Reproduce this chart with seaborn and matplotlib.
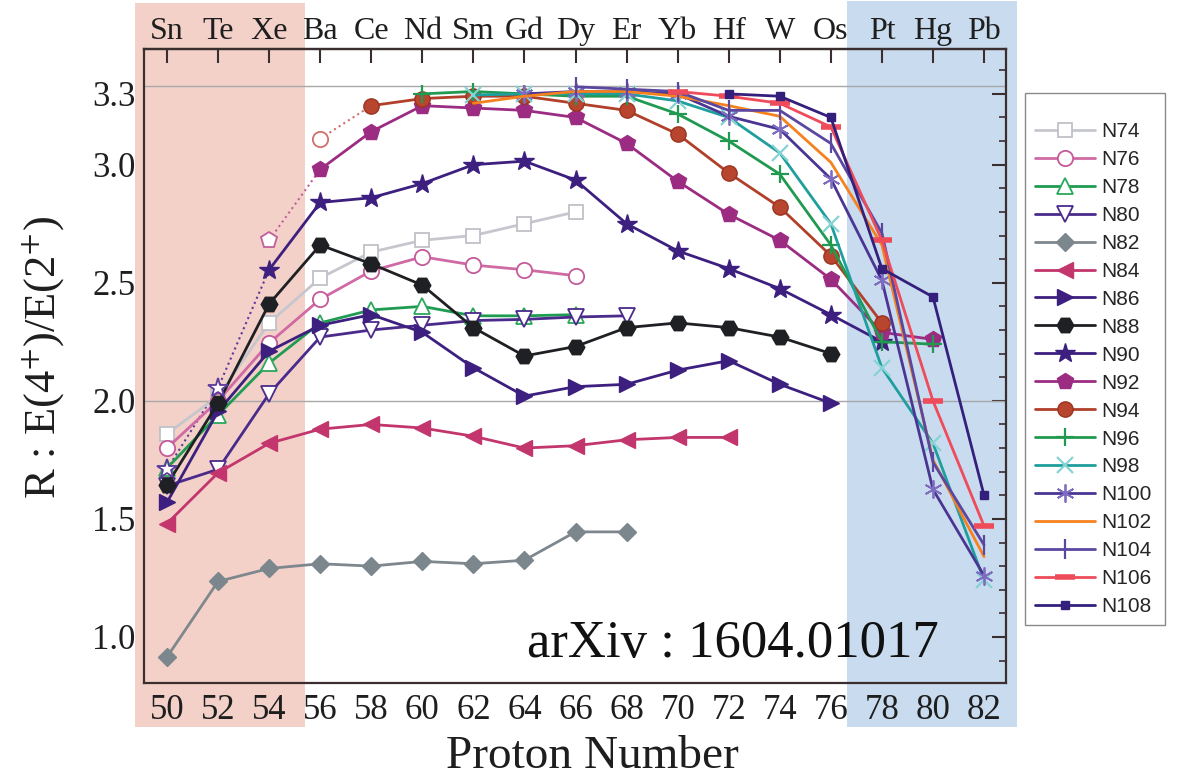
import numpy as np
import pandas as pd
import matplotlib
matplotlib.use("Agg")
import matplotlib.pyplot as plt
import seaborn as sns
from matplotlib.patches import Rectangle
from matplotlib.ticker import MultipleLocator
from matplotlib.font_manager import FontProperties

# ---------------- data ----------------
z_ticks = list(range(50, 84, 2))
elements = ["Sn", "Te", "Xe", "Ba", "Ce", "Nd", "Sm", "Gd", "Dy", "Er",
            "Yb", "Hf", "W", "Os", "Pt", "Hg", "Pb"]
y_ticks = [1.0, 1.5, 2.0, 2.5, 3.0, 3.3]
y_ticklabels = ["1.0", "1.5", "2.0", "2.5", "3.0", "3.3"]

N74_Z = [50, 52, 54, 56, 58, 60, 62, 64, 66]
N74_R = [1.86, 2.02, 2.33, 2.52, 2.63, 2.68, 2.70, 2.75, 2.80]
N76_Z = [50, 52, 54, 56, 58, 60, 62, 64, 66]
N76_R = [1.80, 2.00, 2.245, 2.43, 2.55, 2.61, 2.575, 2.555, 2.53]
N78_Z = [50, 52, 54, 56, 58, 60, 62, 64, 66]
N78_R = [1.715, 1.94, 2.16, 2.33, 2.385, 2.40, 2.36, 2.36, 2.365]
N80_Z = [50, 52, 54, 56, 58, 60, 62, 64, 66, 68]
N80_R = [1.64, 1.71, 2.03, 2.27, 2.30, 2.32, 2.34, 2.345, 2.355, 2.36]
N82_Z = [50, 52, 54, 56, 58, 60, 62, 64, 66, 68]
N82_R = [0.915, 1.235, 1.29, 1.31, 1.30, 1.32, 1.31, 1.325, 1.445, 1.445]
N84_Z = [50, 52, 54, 56, 58, 60, 62, 64, 66, 68, 70, 72]
N84_R = [1.48, 1.695, 1.82, 1.88, 1.90, 1.885, 1.85, 1.80, 1.81, 1.835, 1.845, 1.845]
N86_Z = [50, 52, 54, 56, 58, 60, 62, 64, 66, 68, 70, 72, 74, 76]
N86_R = [1.57, 1.955, 2.21, 2.32, 2.365, 2.29, 2.14, 2.02, 2.06, 2.07, 2.13, 2.17, 2.07, 1.99]
N88_Z = [50, 52, 54, 56, 58, 60, 62, 64, 66, 68, 70, 72, 74, 76]
N88_R = [1.645, 1.99, 2.41, 2.66, 2.58, 2.49, 2.31, 2.19, 2.23, 2.31, 2.33, 2.31, 2.27, 2.20]
N90_Z = [54, 56, 58, 60, 62, 64, 66, 68, 70, 72, 74, 76, 78]
N90_R = [2.555, 2.84, 2.86, 2.92, 3.00, 3.015, 2.935, 2.75, 2.635, 2.56, 2.475, 2.365, 2.25]
N92_Z = [56, 58, 60, 62, 64, 66, 68, 70, 72, 74, 76, 78, 80]
N92_R = [2.98, 3.14, 3.25, 3.24, 3.23, 3.20, 3.09, 2.93, 2.79, 2.68, 2.515, 2.29, 2.26]
N94_Z = [58, 60, 62, 64, 66, 68, 70, 72, 74, 76, 78]
N94_R = [3.25, 3.28, 3.29, 3.29, 3.26, 3.23, 3.13, 2.965, 2.82, 2.615, 2.33]
N96_Z = [60, 62, 64, 66, 68, 70, 72, 74, 76, 78, 80]
N96_R = [3.30, 3.31, 3.30, 3.29, 3.29, 3.215, 3.10, 2.96, 2.66, 2.25, 2.24]
N98_Z = [62, 64, 66, 68, 70, 72, 74, 76, 78, 80, 82]
N98_R = [3.295, 3.30, 3.30, 3.30, 3.27, 3.20, 3.05, 2.75, 2.14, 1.82, 1.24]
N100_Z = [64, 66, 68, 70, 72, 74, 76, 78, 80, 82]
N100_R = [3.30, 3.31, 3.31, 3.30, 3.205, 3.15, 2.94, 2.51, 1.625, 1.26]
N102_Z = [62, 64, 66, 68, 70, 72, 74, 76, 78, 80, 82]
N102_R = [3.26, 3.29, 3.31, 3.31, 3.29, 3.25, 3.205, 3.01, 2.66, 1.75, 1.34]
N104_Z = [66, 68, 70, 72, 74, 76, 78, 80, 82]
N104_R = [3.33, 3.32, 3.31, 3.23, 3.23, 3.09, 2.71, 1.74, 1.39]
N106_Z = [70, 72, 74, 76, 78, 80, 82]
N106_R = [3.31, 3.29, 3.26, 3.16, 2.68, 2.00, 1.47]
N108_Z = [72, 74, 76, 78, 80, 82]
N108_R = [3.30, 3.29, 3.20, 2.56, 2.44, 1.60]

# estimated (dotted) values
N90e_Z = [50, 52, 54]
N90e_R = [1.71, 2.055, 2.555]
N92e_Z = [54, 56]
N92e_R = [2.68, 2.98]
N94e_Z = [56, 58]
N94e_R = [3.11, 3.25]

# ---------------- style ----------------
sns.set_theme(style="white")
plt.rcParams["font.family"] = ["Liberation Serif", "DejaVu Serif"]
plt.rcParams["mathtext.fontset"] = "stix"

W, H = 1179, 782
fig = plt.figure(figsize=(W / 100, H / 100), dpi=100)
fig.patch.set_facecolor("white")

# shaded regions (figure coordinates)
fig.add_artist(Rectangle((135 / W, 1 - 727 / H), 170 / W, 724 / H,
                         transform=fig.transFigure, facecolor="#f3d1c9",
                         edgecolor="none", zorder=0))
fig.add_artist(Rectangle((847 / W, 1 - 727 / H), 170 / W, 726 / H,
                         transform=fig.transFigure, facecolor="#c9dcef",
                         edgecolor="none", zorder=0))
# legend frame
fig.add_artist(Rectangle((1025 / W, 1 - 625 / H), 140 / W, 532 / H,
                         transform=fig.transFigure, facecolor="white",
                         edgecolor="#8a8a8a", linewidth=1.0, zorder=0.5))

ax = fig.add_axes([144 / W, 1 - 683 / H, 862 / W, 634 / H])
ax.set_zorder(1)
ax.patch.set_alpha(0)

ax.axhline(10 / 3, color="#a8a8a8", lw=1.0, zorder=1)
ax.axhline(2.0, color="#a8a8a8", lw=1.0, zorder=1)

series = [
    ("N74", N74_Z, N74_R, "#c6c6ce", "s", 10, "white", "#c0c0c8", 1.3),
    ("N76", N76_Z, N76_R, "#cf6aa4", "o", 11, "white", "#c55a9a", 1.3),
    ("N78", N78_Z, N78_R, "#1f9c52", "^", 11, "white", "#2aa85c", 1.3),
    ("N80", N80_Z, N80_R, "#4a2a8a", "v", 11, "white", "#4a2a8a", 1.3),
    ("N82", N82_Z, N82_R, "#7e878e", "D", 9, "#7b868d", "#7b868d", 1.0),
    ("N84", N84_Z, N84_R, "#c3366d", "<", 12, "#c3366d", "#c3366d", 1.0),
    ("N86", N86_Z, N86_R, "#3c1f7e", ">", 12, "#3c1f7e", "#3c1f7e", 1.0),
    ("N88", N88_Z, N88_R, "#1f2023", "H", 12, "#1f2023", "#1f2023", 1.0),
    ("N90", N90_Z, N90_R, "#3c1f7e", "*", 15, "#3c1f7e", "#3c1f7e", 1.0),
    ("N92", N92_Z, N92_R, "#9c2c82", "p", 12, "#9c2c82", "#9c2c82", 1.0),
    ("N94", N94_Z, N94_R, "#b0402a", "o", 11, "#b8452e", "#9a3420", 1.0),
    ("N96", N96_Z, N96_R, "#209a50", "+", 13, "#209a50", "#209a50", 1.6),
    ("N98", N98_Z, N98_R, "#1f9e9e", "x", 11, "#86d3d3", "#86d3d3", 1.6),
    ("N100", N100_Z, N100_R, "#4b3592", (6, 2, 0), 13, "#7e6cc0", "#7e6cc0", 1.3),
    ("N102", N102_Z, N102_R, "#f5821f", "None", 1, "#f5821f", "#f5821f", 1.0),
    ("N104", N104_Z, N104_R, "#5b46a0", "|", 14, "#5b46a0", "#5b46a0", 1.6),
    ("N106", N106_Z, N106_R, "#ee4c5a", "_", 14, "#ee4c5a", "#ee4c5a", 4.0),
    ("N108", N108_Z, N108_R, "#34207c", "s", 6, "#34207c", "#34207c", 1.0),
]

for i, (name, zz, rr, col, mk, ms, mfc, mec, mew) in enumerate(series):
    df = pd.DataFrame({"Z": zz, "R": rr})
    sns.lineplot(data=df, x="Z", y="R", ax=ax, color=col, marker=mk,
                 markersize=ms, markerfacecolor=mfc, markeredgecolor=mec,
                 markeredgewidth=mew, linewidth=2.0, label=name,
                 zorder=3 + i * 0.1)

# estimated points, dotted
est = [
    (N90e_Z, N90e_R, "#5a3a9a", "*", 15, 2),
    (N92e_Z, N92e_R, "#c0609a", "p", 12, 1),
    (N94e_Z, N94e_R, "#d0706a", "o", 11, 1),
]
for zz, rr, col, mk, ms, nopen in est:
    df = pd.DataFrame({"Z": zz, "R": rr})
    sns.lineplot(data=df, x="Z", y="R", ax=ax, color=col, linestyle=":",
                 linewidth=1.5, zorder=2)
    dfo = df.iloc[:nopen]
    sns.lineplot(data=dfo, x="Z", y="R", ax=ax, color=col, linestyle="None",
                 marker=mk, markersize=ms, markerfacecolor="white",
                 markeredgecolor=col, markeredgewidth=1.3, zorder=4)

# ---------------- axes ----------------
ax.set_xlim(49.1, 82.86)
ax.set_ylim(0.805, 3.49)
ax.set_xticks(z_ticks)
ax.set_xticklabels([str(z) for z in z_ticks])
ax.set_yticks(y_ticks)
ax.set_yticklabels(y_ticklabels)
ax.yaxis.set_minor_locator(MultipleLocator(0.1))
ax.set_xlabel("")
ax.set_ylabel("")

spine_col = "#3a2e2e"
for s in ax.spines.values():
    s.set_color(spine_col)
    s.set_linewidth(1.6)
    s.set_visible(True)

ax.tick_params(axis="both", which="both", direction="in", right=True,
               top=False, colors=spine_col, labelcolor="#1e1e1e")
ax.tick_params(axis="both", which="major", length=10, width=1.5)
ax.tick_params(axis="y", which="minor", length=5, width=1.2)
ax.tick_params(axis="x", which="major", labelsize=25, pad=8)
ax.tick_params(axis="y", which="major", labelsize=25, pad=6)

sec = ax.secondary_xaxis("top")
sec.set_xticks(z_ticks)
sec.set_xticklabels(elements)
sec.tick_params(direction="in", length=10, width=1.5, colors=spine_col,
                labelcolor="#1e1e1e", labelsize=23, pad=2)
sec.spines["top"].set_color(spine_col)
sec.spines["top"].set_linewidth(1.6)

fig.text(592 / W, 1 - 757 / H, "Proton Number", ha="center", va="center",
         fontsize=34, color="#1e1e1e")
fig.text(44 / W, 1 - 358 / H, r"R : E(4$^{+}$)/E(2$^{+}$)", ha="center",
         va="center", rotation=90, fontsize=32, color="#1e1e1e")
fig.text(527 / W, 1 - 657 / H, "arXiv : 1604.01017", ha="left",
         va="baseline", fontsize=38, color="#111111")

handles, labels = ax.get_legend_handles_labels()
keep = [(h, l) for h, l in zip(handles, labels) if l.startswith("N")]
leg = ax.legend([h for h, _ in keep], [l for _, l in keep],
                loc="upper left", bbox_to_anchor=(1035 / W, 1 - 122 / H),
                bbox_transform=fig.transFigure, frameon=False,
                prop=FontProperties(family="Liberation Sans", size=15),
                handlelength=2.9, handletextpad=0.3, labelspacing=0.43,
                borderpad=0, borderaxespad=0, numpoints=1)

fig.savefig("out.png", dpi=100)
